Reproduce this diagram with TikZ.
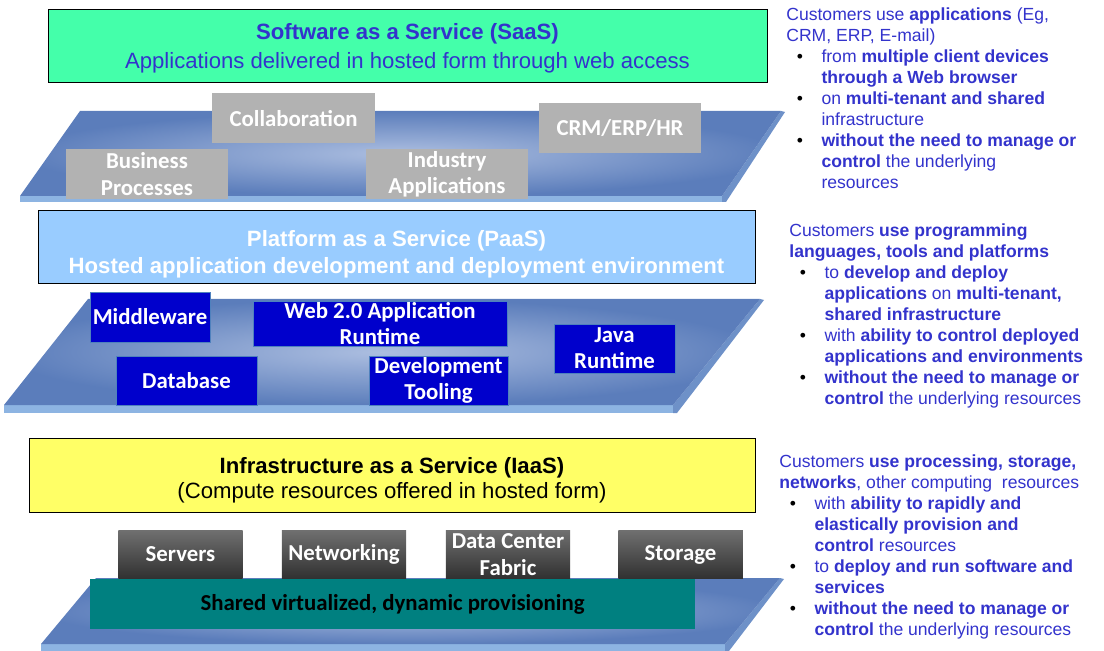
\documentclass[tikz,border=0pt]{standalone}
\usepackage{fontspec}
\setmainfont{Liberation Sans}
\newfontfamily\calib{Carlito}
\usepackage{tikz}

\definecolor{saasgreen}{RGB}{68,255,170}
\definecolor{saasblue}{RGB}{51,51,204}
\definecolor{paasblue}{RGB}{153,204,255}
\definecolor{iaasyellow}{RGB}{255,255,102}
\definecolor{appgray}{RGB}{178,178,178}
\definecolor{midblue}{RGB}{0,0,204}
\definecolor{midedge}{RGB}{79,129,189}
\definecolor{slabdark}{RGB}{91,125,187}
\definecolor{slablight}{RGB}{172,190,224}
\definecolor{slabedge}{RGB}{141,180,226}
\definecolor{slabside}{RGB}{110,145,200}
\definecolor{hwtop}{RGB}{112,112,112}
\definecolor{hwbottom}{RGB}{48,48,48}
\definecolor{tealbox}{RGB}{0,128,128}

\newcommand{\bul}{\makebox[20pt][l]{\hspace{6pt}\textcolor{black}{•}}}
\newcommand{\ind}{\hspace*{20pt}}

\begin{document}
\begin{tikzpicture}[x=0.02cm,y=-0.02cm]
	\useasboundingbox (0,0) rectangle (1104,651);

	\begin{scope}[every node/.style={draw=black,inner sep=0pt,align=center,
	              font=\fontsize{12.6}{16}\selectfont}]
		\node[fill=saasgreen,text=saasblue,font=\fontsize{12.6}{16.4}\selectfont,minimum width=14.38cm,minimum height=1.46cm] (saas) at (407.5,45.5)
			{\rule{0pt}{12.7pt}\textbf{Software as a Service (SaaS)}\\Applications delivered in hosted form through web access};
		\node[fill=paasblue,text=white,font=\fontsize{12.6}{15.3}\selectfont\bfseries,minimum width=14.34cm,minimum height=1.46cm] (paas) at (396.5,246.5)
			{\rule{0pt}{18.4pt}Platform as a Service (PaaS)\\Hosted application development and deployment environment};
		\node[fill=iaasyellow,text=black,font=\fontsize{12.6}{14.2}\selectfont,minimum width=14.52cm,minimum height=1.48cm] (iaas) at (392,475)
			{\rule{0pt}{15pt}\textbf{Infrastructure as a Service (IaaS)}\\(Compute resources offered in hosted form)};
	\end{scope}

	\fill[slabedge] (20,196) rectangle (722,202);
	\fill[slabside] (722,196) -- (781,111) -- (785,112) -- (726,202) -- (722,202) -- cycle;
	\shade[inner color=slablight,outer color=slabdark] (20,196) -- (80,111) -- (781,111) -- (722,196) -- cycle;

	\begin{scope}[every node/.style={fill=appgray,text=white,inner sep=0pt,align=center,
	              minimum width=3.25cm,minimum height=1cm,font=\calib\bfseries\fontsize{13}{15}\selectfont}]
		\node (collab) at (293.5,118.5) {Collaboration};
		\node (crm) at (620,128) {CRM/ERP/HR};
		\node (bizproc) at (147,174) {Business\\Processes};
		\node (industry) at (447,174) {Industry\\Applications};
	\end{scope}

	\fill[slabedge] (4,405) rectangle (673,413);
	\fill[slabside] (673,405) -- (760,299) -- (764,300) -- (677,413) -- (673,413) -- cycle;
	\shade[inner color=slablight,outer color=slabdark] (4,405) -- (88,299) -- (760,299) -- (673,405) -- cycle;

	\begin{scope}[every node/.style={fill=midblue,draw=midedge,text=white,inner sep=0pt,align=center,
	              minimum height=0.98cm,font=\calib\bfseries\fontsize{13}{15}\selectfont}]
		\node[minimum width=2.4cm,minimum height=1cm] (middleware) at (150,317) {Middleware};
		\node[minimum width=5.08cm,minimum height=0.9cm] (webrt) at (380,323.5) {Web 2.0 Application\\Runtime};
		\node[minimum width=2.42cm] (javart) at (614.5,348.5) {Java\\Runtime};
		\node[minimum width=2.82cm] (database) at (186.5,380.5) {Database};
		\node[minimum width=2.78cm] (devtool) at (438.5,380.5) {Development\\Tooling};
	\end{scope}

	\fill[slabedge] (41,644) rectangle (725,651);
	\fill[slabside] (725,644) -- (780,578) -- (784,579) -- (729,651) -- (725,651) -- cycle;
	\shade[inner color=slablight,outer color=slabdark] (41,644) -- (96,578) -- (780,578) -- (725,644) -- cycle;

	\begin{scope}[every node/.style={top color=hwtop,bottom color=hwbottom,text=white,inner sep=0pt,align=center,
	              minimum width=2.49cm,minimum height=0.98cm,font=\calib\bfseries\fontsize{13}{15}\selectfont}]
		\node (servers) at (180.5,554.5) {Servers};
		\node (network) at (344,554.5) {Networking};
		\node (dcfabric) at (508,554.5) {Data Center\\Fabric};
		\node (storage) at (680.5,554.5) {Storage};
	\end{scope}
	\node[fill=tealbox,text=black,inner sep=0pt,minimum width=12.1cm,minimum height=1cm,
	      font=\calib\bfseries\fontsize{13}{15}\selectfont] (shared) at (392.5,604) {Shared virtualized, dynamic provisioning};

	\begin{scope}[every node/.style={anchor=north west,inner sep=0pt,align=left,text=saasblue,
	              font=\fontsize{10}{12}\selectfont}]
		\node (saasnote) at (786,7) {Customers use \textbf{applications} (Eg,\\
			CRM, ERP, E-mail)\\
			\bul from \textbf{multiple client devices}\\
			\ind\textbf{through a Web browser}\\
			\bul on \textbf{multi-tenant and shared}\\
			\ind infrastructure\\
			\bul\textbf{without the need to manage or}\\
			\ind\textbf{control} the underlying\\
			\ind resources};
		\node (paasnote) at (789,223) {Customers \textbf{use programming}\\
			\textbf{languages, tools and platforms}\\
			\bul to \textbf{develop and deploy}\\
			\ind\textbf{applications} on \textbf{multi-tenant,}\\
			\ind\textbf{shared infrastructure}\\
			\bul with \textbf{ability to control deployed}\\
			\ind\textbf{applications and environments}\\
			\bul\textbf{without the need to manage or}\\
			\ind\textbf{control} the underlying resources};
		\node (iaasnote) at (779,454) {Customers \textbf{use processing, storage,}\\
			\textbf{networks}, other computing\ \ resources\\
			\bul with \textbf{ability to rapidly and}\\
			\ind\textbf{elastically provision and}\\
			\ind\textbf{control} resources\\
			\bul to \textbf{deploy and run software and}\\
			\ind\textbf{services}\\
			\bul\textbf{without the need to manage or}\\
			\ind\textbf{control} the underlying resources};
	\end{scope}
\end{tikzpicture}
\end{document}
